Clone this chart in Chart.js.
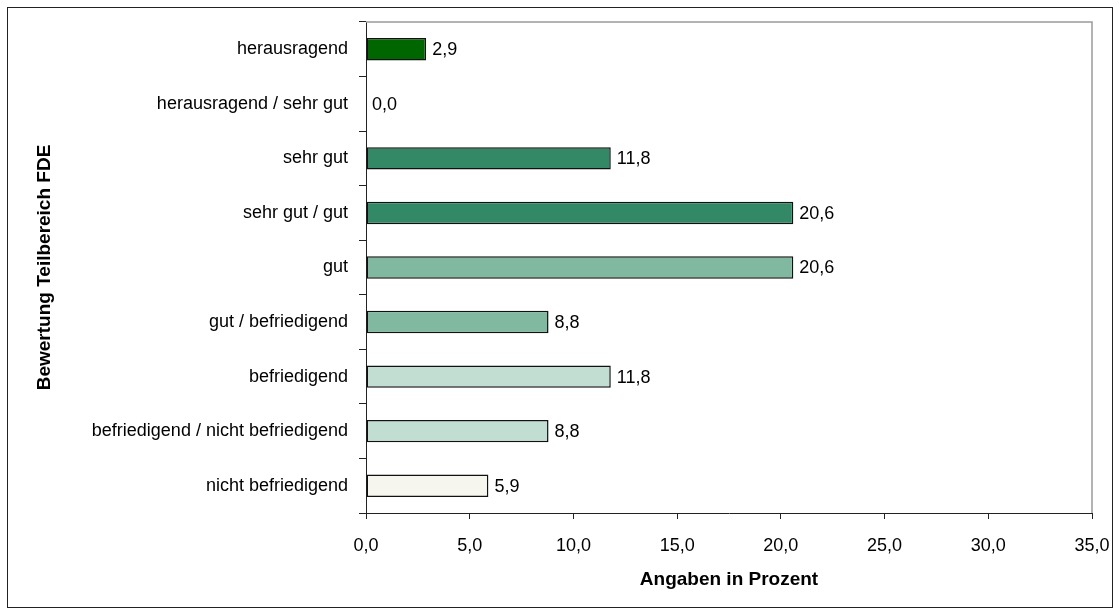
<!DOCTYPE html>
<html>
<head>
<meta charset="utf-8">
<script src="https://cdn.jsdelivr.net/npm/chart.js@4"></script>
<style>
  body { margin: 0; background: #fff; }
</style>
</head>
<body>
<canvas id="cvBewertung" width="1120" height="616"></canvas>
<script>
const categories = [
    "herausragend",
    "herausragend / sehr gut",
    "sehr gut",
    "sehr gut / gut",
    "gut",
    "gut / befriedigend",
    "befriedigend",
    "befriedigend / nicht befriedigend",
    "nicht befriedigend"
];
const values = [2.9, 0.0, 11.8, 20.6, 20.6, 8.8, 11.8, 8.8, 5.9];
const barColors = ["#006600", "#338866", "#338866", "#338866", "#80b8a0", "#80b8a0", "#c2ded2", "#c2ded2", "#f6f6ef"];
const xTicks = [0, 5, 10, 15, 20, 25, 30, 35];

const fmt = (v) => v.toFixed(1).replace(".", ",");

const frame = {
    id: "frame",
    beforeDraw: (chart) => {
        const ctx = chart.ctx;
        ctx.save();
        ctx.fillStyle = "#fff";
        ctx.fillRect(0, 0, chart.width, chart.height);
        ctx.restore();
    },
    afterDraw: (chart) => {
        const ctx = chart.ctx;
        const a = chart.chartArea;
        ctx.save();
        ctx.strokeStyle = "#222";
        ctx.lineWidth = 1;
        ctx.strokeRect(7.5, 7.5, chart.width - 15, chart.height - 16);
        ctx.strokeStyle = "#9a9a9a";
        ctx.lineWidth = 1.5;
        ctx.beginPath();
        ctx.moveTo(a.left, a.top);
        ctx.lineTo(a.right, a.top);
        ctx.lineTo(a.right, a.bottom);
        ctx.stroke();
        ctx.restore();
    }
};

const valueLabels = {
    id: "valueLabels",
    afterDatasetsDraw: (chart) => {
        const ctx = chart.ctx;
        const meta = chart.getDatasetMeta(0);
        ctx.save();
        ctx.font = "18px 'Liberation Sans'";
        ctx.fillStyle = "#000";
        ctx.textAlign = "left";
        ctx.textBaseline = "middle";
        meta.data.forEach((bar, i) => {
            ctx.fillText(fmt(values[i]), bar.x + 6, bar.y + 1);
        });
        ctx.restore();
    }
};

var ctx = document.getElementById("cvBewertung").getContext("2d");
const myChart = new Chart(ctx, {
    type: "bar",
    data: {
        labels: categories,
        datasets: [{
            data: values,
            backgroundColor: barColors,
            borderColor: "#111",
            borderWidth: 1.5,
            borderSkipped: false,
            categoryPercentage: 1,
            barPercentage: 0.41
        }]
    },
    options: {
        indexAxis: "y",
        responsive: false,
        animation: false,
        layout: { padding: { left: 0, right: 28, top: 22, bottom: 0 } },
        plugins: {
            legend: { display: false },
            tooltip: { enabled: false }
        },
        scales: {
            x: {
                min: 0,
                max: 35,
                afterBuildTicks: (scale) => { scale.ticks = xTicks.map(v => ({ value: v })); },
                afterFit: (scale) => {
                    scale.height = 103;
                    scale.paddingLeft = 0;
                    scale.paddingRight = 0;
                },
                ticks: {
                    color: "#000",
                    padding: 16,
                    font: { family: "Liberation Sans", size: 18 },
                    callback: (v) => fmt(v)
                },
                grid: { drawOnChartArea: false, tickLength: 6, color: "#222" },
                border: { color: "#222", width: 1 },
                title: {
                    display: true,
                    text: "Angaben in Prozent",
                    color: "#000",
                    font: { family: "Liberation Sans", size: 19, weight: "bold" },
                    padding: { top: 0, bottom: 25 }
                }
            },
            y: {
                afterFit: (scale) => { scale.width = 366; },
                ticks: {
                    color: "#000",
                    padding: 11,
                    font: { family: "Liberation Sans", size: 18 }
                },
                grid: { drawOnChartArea: false, tickLength: 7, color: "#222" },
                border: { color: "#222", width: 1 },
                title: {
                    display: true,
                    text: "Bewertung Teilbereich FDE",
                    color: "#000",
                    font: { family: "Liberation Sans", size: 19, weight: "bold" },
                    padding: { top: 33, bottom: 0 }
                }
            }
        }
    },
    plugins: [frame, valueLabels]
});
</script>
</body>
</html>
